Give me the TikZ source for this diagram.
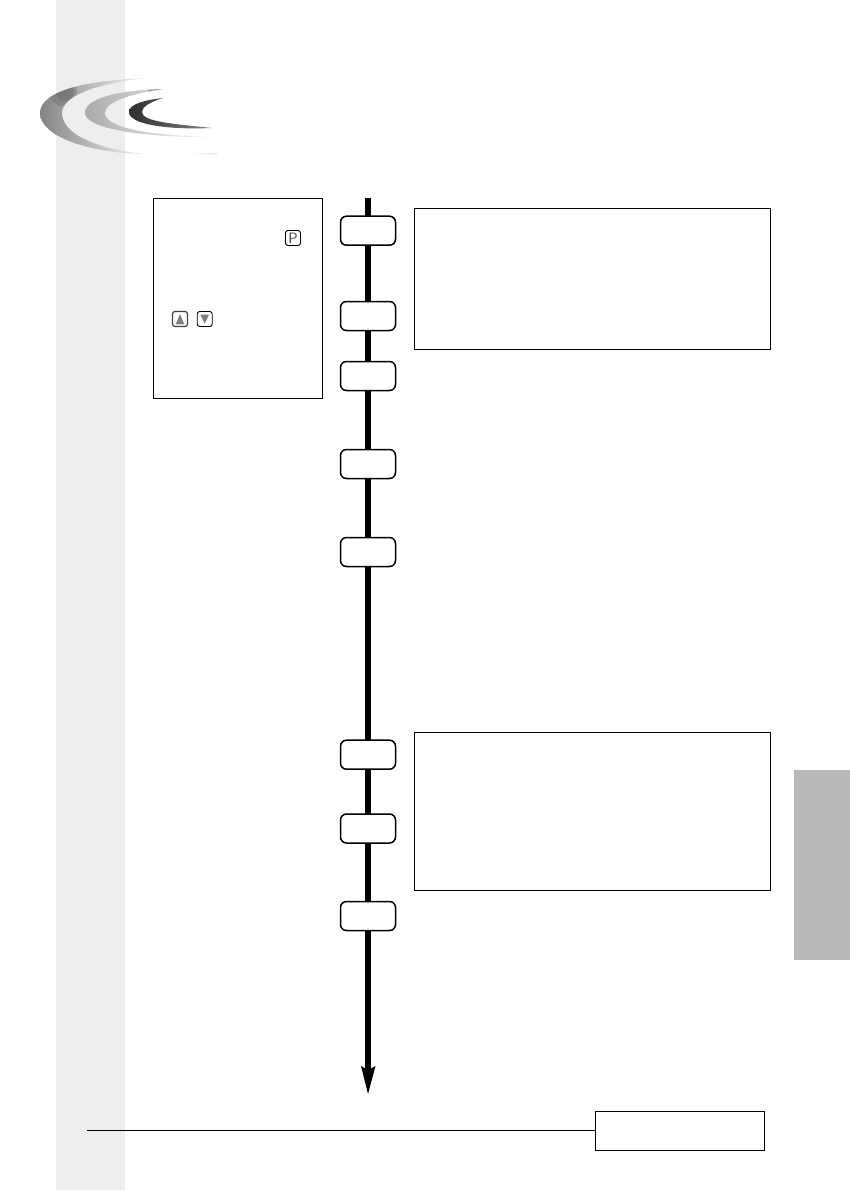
\documentclass[tikz,border=0pt]{standalone}
\definecolor{band}{gray}{0.933}
\definecolor{tab}{gray}{0.725}
\tikzset{
  x=1pt,y=-1pt,
  stepbox/.style={draw=black,line width=1.5pt,fill=white,rounded corners=6pt,minimum width=55pt,minimum height=29pt,inner sep=0pt,outer sep=0pt},
  framebox/.style={draw=black,line width=1pt,fill=white,inner sep=0pt,outer sep=0pt,anchor=north west},
  keybox/.style={draw=black,line width=0.9pt,fill=white,rounded corners=2.5pt,minimum width=15pt,minimum height=15pt,inner sep=0pt,outer sep=0pt},
}
\begin{document}
\begin{tikzpicture}
\useasboundingbox (0,0) rectangle (850,1190);
\fill[white] (0,0) rectangle (850,1190);
\fill[band] (56,0) rectangle (125,1190);
\fill[tab] (794,770) rectangle (850,960);
% logo
\def\outerC{(147,78) .. controls (90,80) and (40,90) .. (40,113) .. controls (40,138) and (95,154) .. (147,154) .. controls (100,150) and (62,135) .. (62,113) .. controls (62,95) and (100,83) .. (147,78) -- cycle}
\def\midC{(163,89) .. controls (120,90) and (85,98) .. (85,113) .. controls (85,128) and (140,138) .. (217,137) .. controls (150,136) and (105,128) .. (105,113) .. controls (105,102) and (130,94) .. (163,89) -- cycle}
\def\innerC{(163,98) .. controls (145,100) and (129,104) .. (129,112) .. controls (129,124) and (165,130) .. (212,128) .. controls (175,124) and (142,122) .. (142,112) .. controls (142,107) and (150,102) .. (163,98) -- cycle}
\begin{scope}
  \clip \outerC;
  \shade[left color=black!48,right color=black!3] (40,70) rectangle (147,160);
  \fill[black!70,opacity=0.25] (63,92) circle (14);
  \fill[black!70,opacity=0.25] (65,92) circle (9);
\end{scope}
\begin{scope}
  \clip \midC;
  \shade[left color=black!33,middle color=black!10,right color=black!2] (85,85) rectangle (217,140);
  \fill[black!45,opacity=0.7] (148,85) rectangle (163,95);
\end{scope}
\begin{scope}
  \clip \innerC;
  \shade[left color=black!82,right color=black!48] (129,95) rectangle (212,132);
\end{scope}
\fill[black!10] (193,154) -- (217,153) -- (217,154.5) -- cycle;
% spine
\coordinate (top) at (368,198);
\coordinate (tip) at (368,1094);
\coordinate (barend) at (368,1070);
\draw[black,line width=6pt] (top) -- (barend);
\fill[black] (361,1066) -- (368,1070) -- (375.5,1066) -- (tip) -- cycle;
% panels
\node[framebox,minimum width=169pt,minimum height=200pt] (left) at (153.3,198.3) {};
\node[framebox,minimum width=356.3pt,minimum height=141pt] (p1) at (414.3,208.3) {};
\node[framebox,minimum width=356.3pt,minimum height=158pt] (p2) at (414.3,732.3) {};
\node[framebox,minimum width=169pt,minimum height=39pt] (foot) at (595.3,1111.3) {};
\coordinate (rule) at (87,1130.5);
\draw[black,line width=1pt] (rule) -- (foot.west |- rule);
% step boxes
\node[stepbox] (s1) at (368,230.7) {};
\node[stepbox] (s2) at (368,316) {};
\node[stepbox] (s3) at (368,376) {};
\node[stepbox] (s4) at (368,464) {};
\node[stepbox] (s5) at (368,552) {};
\node[stepbox] (s6) at (368,754.7) {};
\node[stepbox] (s7) at (368,828.5) {};
\node[stepbox] (s8) at (368,916) {};
% keys
\node[keybox,text=black!75] (kp) at (293,238) {\fontsize{15}{15}\sffamily P};
\node[keybox,draw=black!75,line width=1.2pt] (ku) at (180,319) {};
\node[keybox] (kd) at (204.7,319) {};
\fill[black!50] (175.7,324.3) -- (184.3,324.3) -- (180,314) -- cycle;
\fill[black!50] (200.3,314.7) -- (209,314.7) -- (204.7,323.5) -- cycle;
\end{tikzpicture}
\end{document}
